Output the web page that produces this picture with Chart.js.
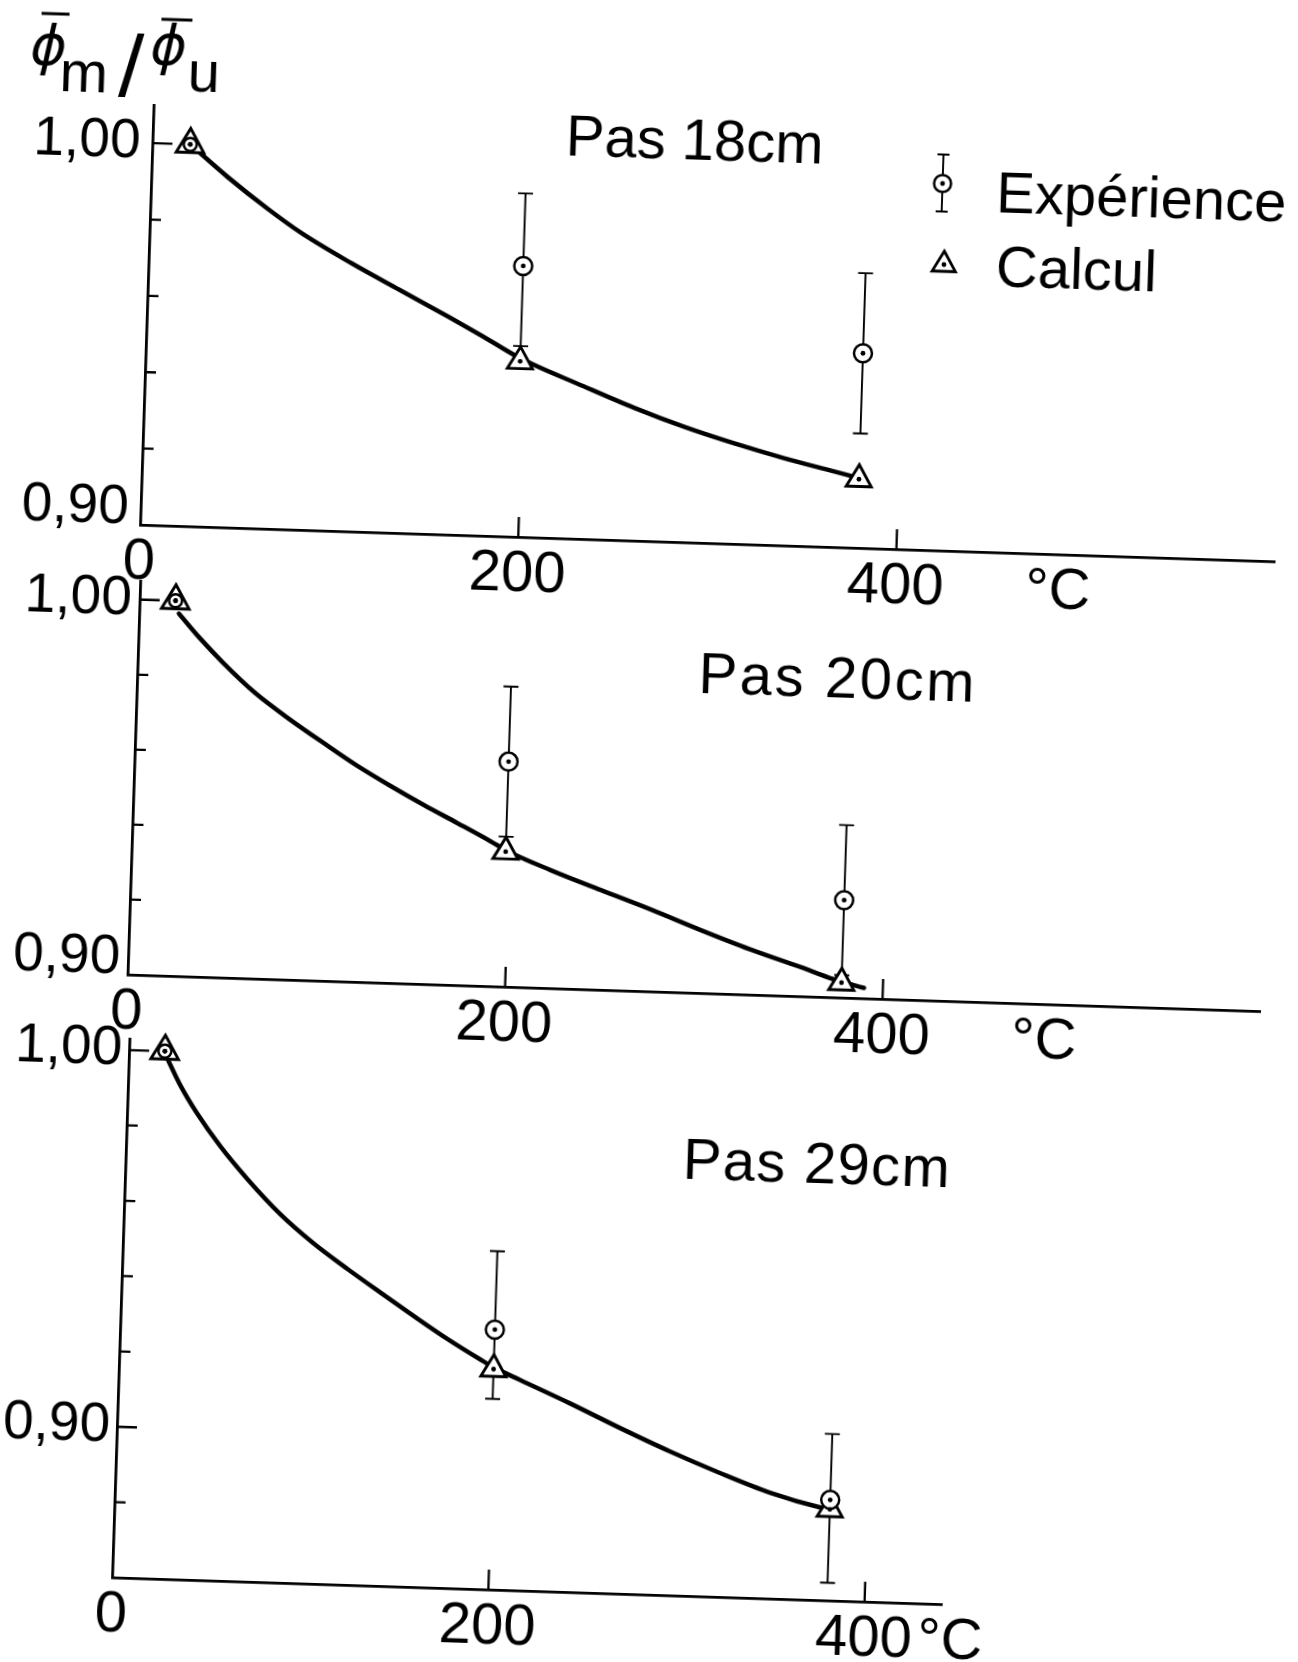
<!DOCTYPE html>
<html>
<head>
<meta charset="utf-8">
<script src="https://cdn.jsdelivr.net/npm/chart.js@4.4.1/dist/chart.umd.min.js"></script>
<style>
  html, body { margin: 0; padding: 0; background: #fff; overflow: hidden; }
  /* the scanned figure is turned slightly clockwise */
  #sheet { position: absolute; left: 0; top: 0; width: 1298px; height: 1662px; transform: rotate(1.85deg); transform-origin: 0 0; }
  #sheet canvas { position: absolute; left: 0; top: 0; pointer-events: none; }
</style>
</head>
<body>
<div id="sheet">
  <canvas id="pas18" width="1298" height="1662"></canvas>
  <canvas id="pas20" width="1298" height="1662"></canvas>
  <canvas id="pas29" width="1298" height="1662"></canvas>
</div>
<script>
const FONT = '"Liberation Sans", Arial, sans-serif';

// ---- Pas 18 cm ----
const temp18 = [20, 198, 379];
const calc18 = [1.000, 0.946, 0.918];
const exp18 = [1.000, 0.971, 0.951];
const expLow18 = [1.000, 0.950, 0.930];
const expHigh18 = [1.000, 0.990, 0.972];
const curveT18 = [20, 40, 62, 80, 107, 133, 160, 178, 198, 232, 259, 286, 312, 339, 366, 379];
const curve18 = [1.000, 0.9919, 0.9838, 0.9778, 0.9703, 0.9637, 0.9569, 0.9522, 0.9468, 0.9400, 0.9348, 0.9302, 0.9264, 0.9229, 0.9198, 0.9183];

// ---- Pas 20 cm ----
const temp20 = [19, 198, 378];
const calc20 = [1.000, 0.936, 0.904];
const exp20 = [1.000, 0.960, 0.926];
const expLow20 = [1.000, 0.940, 0.906];
const expHigh20 = [1.000, 0.980, 0.946];
const curveT20 = [21, 32, 45, 63, 82, 100, 118, 136, 154, 172, 190, 198, 222, 249, 276, 302, 329, 356, 374, 390];
const curve20 = [0.9966, 0.9905, 0.9840, 0.9760, 0.9692, 0.9633, 0.9576, 0.9525, 0.9477, 0.9432, 0.9386, 0.9364, 0.9315, 0.9266, 0.9218, 0.9169, 0.9121, 0.9078, 0.9048, 0.9028];

// ---- Pas 29 cm ----
const temp29 = [19, 199, 380];
const calc29 = [1.000, 0.9185, 0.8842];
const exp29 = [1.000, 0.929, 0.8867];
const expLow29 = [1.000, 0.9106, 0.8647];
const expHigh29 = [1.000, 0.9498, 0.9042];
const curveT29 = [21, 28, 37, 50, 65, 83, 101, 120, 138, 156, 174, 192, 199, 213, 240, 267, 294, 321, 348, 375, 380];
const curve29 = [0.9975, 0.9909, 0.9839, 0.9753, 0.9668, 0.9578, 0.9504, 0.9437, 0.9377, 0.9318, 0.9261, 0.9209, 0.9190, 0.9159, 0.9101, 0.9040, 0.8982, 0.8929, 0.8881, 0.8846, 0.8842];

// ---- axes ----
const xTicksTop = [0, 200, 400, 486];
const xTicksBottom = [0, 200, 400, 446];
const xTickLabels = ["0", "200", "400", "°C"];
const xMarked = [200, 400];
const yTicksTop = [0.90, 0.92, 0.94, 0.96, 0.98, 1.00];
const yTicksBottom = [0.86, 0.88, 0.90, 0.92, 0.94, 0.96, 0.98, 1.00];
const yLabelled = [0.90, 1.00];

const legendLabels = ["Expérience", "Calcul"];

const pts = (xs, ys) => xs.map((x, i) => ({ x: x, y: ys[i] }));
const near = (a, b) => Math.abs(a - b) < 1e-6;

function triangle(ctx, x, y, r) {
  ctx.beginPath();
  ctx.moveTo(x, y - r);
  ctx.lineTo(x + r * 0.866, y + r / 2);
  ctx.lineTo(x - r * 0.866, y + r / 2);
  ctx.closePath();
}

// phi-bar m / phi-bar u, written above the first axis
function drawAxisTitle(ctx) {
  ctx.font = 'oblique 55px "DejaVu Sans", sans-serif';
  ctx.fillText("ϕ", 32, 63);
  ctx.fillText("ϕ", 152, 59);
  ctx.font = "58px " + FONT;
  ctx.fillText("m", 62, 89);
  ctx.fillText("u", 190, 85);
  ctx.font = "88px " + FONT;
  ctx.fillText("/", 121, 92);
  ctx.lineWidth = 3;
  ctx.beginPath();
  ctx.moveTo(42, 12); ctx.lineTo(70, 12);
  ctx.moveTo(162, 14); ctx.lineTo(193, 14);
  ctx.stroke();
}

const panelDraw = {
  id: "panelDraw",
  beforeDatasetsDraw(chart, args, o) {
    const { ctx, chartArea } = chart;
    const x = chart.scales.x, y = chart.scales.y;
    ctx.save();
    ctx.strokeStyle = "#000";
    // error bars
    ctx.lineWidth = 1.9;
    o.temps.forEach((t, i) => {
      if (o.high[i] - o.low[i] < 1e-6) return;
      const px = x.getPixelForValue(t);
      const yh = y.getPixelForValue(o.high[i]);
      const yl = y.getPixelForValue(o.low[i]);
      ctx.beginPath();
      ctx.moveTo(px, yh); ctx.lineTo(px, yl);
      ctx.moveTo(px - 7.5, yh); ctx.lineTo(px + 7.5, yh);
      ctx.moveTo(px - 7.5, yl); ctx.lineTo(px + 7.5, yl);
      ctx.stroke();
    });
    // tick marks point inwards
    ctx.lineWidth = 2.3;
    ctx.beginPath();
    o.yTicks.forEach((v) => {
      if (near(v, y.min)) return;
      const py = y.getPixelForValue(v);
      const len = yLabelled.some((l) => near(l, v)) ? 20 : 11;
      ctx.moveTo(chartArea.left, py); ctx.lineTo(chartArea.left + len, py);
    });
    xMarked.forEach((v) => {
      const px = x.getPixelForValue(v);
      ctx.moveTo(px, chartArea.bottom); ctx.lineTo(px, chartArea.bottom - 20);
    });
    ctx.stroke();
    ctx.restore();
  },
  afterDraw(chart, args, o) {
    const { ctx } = chart;
    ctx.save();
    ctx.fillStyle = "#000";
    ctx.strokeStyle = "#000";
    ctx.textBaseline = "alphabetic";
    ctx.font = "58px " + FONT;
    ctx.letterSpacing = o.titleSpacing;
    ctx.fillText(o.title, o.titleAt[0], o.titleAt[1]);
    ctx.letterSpacing = "0px";
    if (o.legend) {
      drawAxisTitle(ctx);
      ctx.font = "58px " + FONT;
      // Expérience: circle with dot and error bar
      const [cx, cy] = [948, 153];
      ctx.lineWidth = 1.9;
      ctx.beginPath();
      ctx.moveTo(cx, cy - 29); ctx.lineTo(cx, cy + 28);
      ctx.moveTo(cx - 6, cy - 29); ctx.lineTo(cx + 6, cy - 29);
      ctx.moveTo(cx - 6, cy + 28); ctx.lineTo(cx + 6, cy + 28);
      ctx.stroke();
      ctx.lineWidth = 2.5;
      ctx.beginPath(); ctx.arc(cx, cy, 8.5, 0, Math.PI * 2);
      ctx.fillStyle = "#fff"; ctx.fill(); ctx.stroke();
      ctx.fillStyle = "#000";
      ctx.beginPath(); ctx.arc(cx, cy, 2.4, 0, Math.PI * 2); ctx.fill();
      // Calcul: triangle with dot
      ctx.lineWidth = 2.8;
      triangle(ctx, 952, 234, 13.5);
      ctx.stroke();
      ctx.beginPath(); ctx.arc(952, 234, 2.4, 0, Math.PI * 2); ctx.fill();
      ctx.fillText(legendLabels[0], 1002, 180);
      ctx.fillText(legendLabels[1], 1004, 254);
    }
    ctx.restore();
  },
};

function makePanel(id, p) {
  const yW = 140, xH = 80;
  const ctx = document.getElementById(id).getContext("2d");
  return new Chart(ctx, {
    type: "scatter",
    data: {
      datasets: [
        {
          // centre dots of the markers
          data: pts(p.temps, p.calc).concat(pts(p.temps, p.exp)),
          pointStyle: "circle",
          pointRadius: 2.4,
          pointBackgroundColor: "#000",
          pointBorderWidth: 0,
        },
        {
          label: legendLabels[0],
          data: pts(p.temps, p.exp),
          pointStyle: "circle",
          pointRadius: [6.5, 9, 9],
          pointBackgroundColor: "#fff",
          pointBorderColor: "#000",
          pointBorderWidth: 2.5,
        },
        {
          label: legendLabels[1],
          data: pts(p.temps, p.calc),
          pointStyle: "triangle",
          pointRadius: [16, 14.5, 14.5],
          pointBackgroundColor: "#fff",
          pointBorderColor: "#000",
          pointBorderWidth: 2.9,
        },
        {
          data: pts(p.curveT, p.curve),
          showLine: true,
          cubicInterpolationMode: "monotone",
          borderColor: "#000",
          borderWidth: 4.5,
          borderCapStyle: "round",
          borderJoinStyle: "round",
          pointRadius: 0,
        },
      ],
    },
    options: {
      responsive: false,
      animation: false,
      events: [],
      clip: false,
      layout: {
        autoPadding: false,
        padding: {
          left: p.box.left - yW,
          top: p.box.top,
          right: 1298 - p.box.right,
          bottom: 1662 - p.box.bottom - xH,
        },
      },
      plugins: {
        legend: { display: false },
        tooltip: { enabled: false },
        panelDraw: {
          title: p.title,
          titleAt: p.titleAt,
          titleSpacing: p.titleSpacing,
          legend: p.legend,
          temps: p.temps,
          low: p.low,
          high: p.high,
          yTicks: p.yTicks,
        },
      },
      scales: {
        x: {
          type: "linear",
          min: 0,
          max: p.xMax,
          afterBuildTicks: (s) => { s.ticks = p.xTicks.map((v) => ({ value: v })); },
          afterFit: (s) => { s.height = xH; s.paddingLeft = 0; s.paddingRight = 0; },
          grid: { display: false },
          border: { display: true, color: "#000", width: 2.8 },
          ticks: {
            autoSkip: false,
            maxRotation: 0,
            padding: -5,
            color: "#000",
            font: { family: FONT, size: 58 },
            callback: (v) => xTickLabels[p.xTicks.indexOf(v)],
          },
        },
        y: {
          type: "linear",
          min: p.yMin,
          max: p.yMax,
          afterBuildTicks: (s) => { s.ticks = p.yTicks.map((v) => ({ value: v })); },
          afterFit: (s) => { s.width = yW; s.paddingTop = 0; s.paddingBottom = 0; },
          grid: { display: false },
          border: { display: true, color: "#000", width: 2.8 },
          ticks: {
            autoSkip: false,
            padding: p.yPad,
            color: "#000",
            font: { family: FONT, size: 55, lineHeight: 0.6 },
            callback: (v) => {
              if (near(v, 1.0)) return "1,00";
              if (near(v, 0.9)) return p.lowLabelUp ? ["0,90", ""] : "0,90";
              return "";
            },
          },
        },
      },
    },
    plugins: [panelDraw],
  });
}

makePanel("pas18", {
  temps: temp18, calc: calc18, exp: exp18, low: expLow18, high: expHigh18,
  curveT: curveT18, curve: curve18,
  box: { left: 157, top: 100, right: 1292, bottom: 520 },
  xMax: 600, yMin: 0.90, yMax: 1.010,
  xTicks: xTicksTop, yTicks: yTicksTop, lowLabelUp: true, yPad: 4,
  title: "Pas 18cm", titleAt: [570, 137], titleSpacing: "0px", legend: true,
});

makePanel("pas20", {
  temps: temp20, calc: calc20, exp: exp20, low: expLow20, high: expHigh20,
  curveT: curveT20, curve: curve20,
  box: { left: 159, top: 576, right: 1292, bottom: 970 },
  xMax: 600, yMin: 0.90, yMax: 1.005,
  xTicks: xTicksTop, yTicks: yTicksTop, lowLabelUp: true, yPad: 0,
  title: "Pas 20cm", titleAt: [720, 670], titleSpacing: "2.6px", legend: false,
});

makePanel("pas29", {
  temps: temp29, calc: calc29, exp: exp29, low: expLow29, high: expHigh29,
  curveT: curveT29, curve: curve29,
  box: { left: 163, top: 1034, right: 993, bottom: 1573 },
  xMax: 441, yMin: 0.86, yMax: 1.003,
  xTicks: xTicksBottom, yTicks: yTicksBottom, lowLabelUp: false, yPad: -1,
  title: "Pas 29cm", titleAt: [720, 1156], titleSpacing: "1.3px", legend: false,
});
</script>
</body>
</html>
